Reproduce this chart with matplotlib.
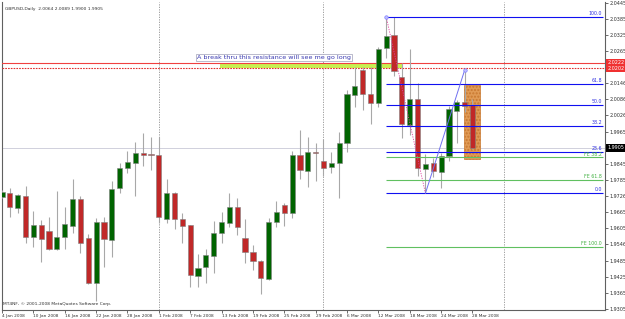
import matplotlib
matplotlib.use('Agg')
import matplotlib.pyplot as plt
from matplotlib.patches import Rectangle
import numpy as np

# GBPUSD daily candles, 4 Jan 2008 .. 28 Mar 2008
opens = [1.9724, 1.9737, 1.9681, 1.9725, 1.9574, 1.9617, 1.9597, 1.9528, 1.9574, 1.9614,
         1.9716, 1.9569, 1.9403, 1.9629, 1.9562, 1.9755, 1.9832, 1.9848, 1.9887, 1.9883,
         1.9880, 1.9642, 1.9737, 1.9639, 1.9617, 1.9429, 1.9463, 1.9504, 1.9589, 1.9624,
         1.9686, 1.9569, 1.9516, 1.9484, 1.9417, 1.9630, 1.9693, 1.9662, 1.9879, 1.9820,
         1.9889, 1.9858, 1.9833, 1.9848, 1.9925, 2.0101, 2.0195, 2.0106, 2.0071, 2.0276,
         2.0326, 2.0170, 1.9991, 2.0086, 1.9827, 1.9850, 1.9817, 1.9876, 2.0044, 2.0077, 2.0064]
highs = [1.9748, 1.9755, 1.9734, 1.9763, 1.9671, 1.9637, 1.9647, 1.9745, 1.9684, 1.9789,
         1.9726, 1.9585, 1.9643, 1.9649, 1.9782, 1.9848, 1.9893, 1.9928, 1.9960, 1.9947,
         1.9947, 1.9788, 1.9739, 1.9662, 1.9619, 1.9510, 1.9529, 1.9634, 1.9665, 1.9736,
         1.9720, 1.9639, 1.9544, 1.9486, 1.9643, 1.9709, 1.9699, 1.9894, 1.9972, 1.9947,
         1.9922, 1.9937, 1.9889, 1.9966, 2.0121, 2.0208, 2.0208, 2.0205, 2.0281, 2.0394,
         2.0392, 2.0222, 2.0273, 2.0146, 1.9881, 1.9867, 1.9885, 2.0061, 2.0084, 2.0195, 2.0089]
lows = [1.9719, 1.9649, 1.9662, 1.9552, 1.9537, 1.9481, 1.9526, 1.9525, 1.9527, 1.9587,
        1.9513, 1.9399, 1.9336, 1.9463, 1.9500, 1.9738, 1.9811, 1.9726, 1.9838, 1.9823,
        1.9624, 1.9624, 1.9602, 1.9552, 1.9388, 1.9388, 1.9401, 1.9440, 1.9550, 1.9612,
        1.9581, 1.9475, 1.9450, 1.9361, 1.9411, 1.9612, 1.9615, 1.9643, 1.9788, 1.9761,
        1.9783, 1.9801, 1.9813, 1.9720, 1.9891, 2.0059, 2.0046, 1.9994, 2.0058, 2.0239,
        2.0173, 1.9941, 1.9953, 1.9802, 1.9736, 1.9798, 1.9757, 1.9855, 1.9922, 2.0039, 1.9900]
closes = [1.9742, 1.9686, 1.9729, 1.9574, 1.9617, 1.9565, 1.9528, 1.9574, 1.9622, 1.9716,
          1.9552, 1.9401, 1.9629, 1.9565, 1.9751, 1.9829, 1.9852, 1.9885, 1.9880, 1.9880,
          1.9649, 1.9737, 1.9639, 1.9615, 1.9432, 1.9457, 1.9506, 1.9587, 1.9628, 1.9686,
          1.9610, 1.9516, 1.9484, 1.9420, 1.9628, 1.9668, 1.9664, 1.9879, 1.9823, 1.9890,
          1.9888, 1.9832, 1.9848, 1.9922, 2.0106, 2.0136, 2.0105, 2.0071, 2.0274, 2.0322,
          2.0193, 1.9994, 2.0086, 1.9829, 1.9845, 1.9820, 1.9875, 2.0049, 2.0075, 2.0062, 1.9905]

date_labels = ['4 Jan 2008', '10 Jan 2008', '16 Jan 2008', '22 Jan 2008', '28 Jan 2008',
               '1 Feb 2008', '7 Feb 2008', '13 Feb 2008', '19 Feb 2008', '25 Feb 2008',
               '29 Feb 2008', '6 Mar 2008', '12 Mar 2008', '18 Mar 2008', '24 Mar 2008',
               '28 Mar 2008']
price_ticks = ['2.0445', '2.0385', '2.0325', '2.0265', '2.0146', '2.0086', '2.0026',
               '1.9965', '1.9845', '1.9785', '1.9726', '1.9665', '1.9605', '1.9546',
               '1.9485', '1.9425', '1.9365', '1.9305']
month_bars = [20, 41, 64]

fib_names = ['100.0', '61.8', '50.0', '38.2', '23.6', '0.0']
fib_prices = [2.0394, 2.0143, 2.0065, 1.9987, 1.9891, 1.9736]
fe_names = ['FE 38.2', 'FE 61.8', 'FE 100.0']
fe_prices = [1.9870, 1.9787, 1.9535]
resist_top = 2.0222
resist_bot = 2.0202
last_price = 1.9905
note = 'A break thru this resistance will see me go long'

n = len(opens)
x = np.arange(n)
o = np.array(opens); c = np.array(closes)
up = c >= o

fig = plt.figure(figsize=(6.25, 3.19), dpi=100)
fig.patch.set_facecolor('white')
ax = fig.add_axes([2/625, 9/319, 603/625, 308/319])
ax.set_xlim(0.06, 76.9)
ax.set_ylim(1.9301, 2.0449)

# grid / price line
for m in month_bars:
    ax.axvline(m, color='#909090', lw=0.6, ls=(0, (1.5, 1.5)), zorder=1)
ax.axhline(last_price, color='#d0d0dc', lw=0.7, zorder=1)

# resistance zone
ax.add_patch(Rectangle((27.8, resist_bot), 51.0 - 27.8, resist_top - resist_bot,
                       facecolor='#c8f050', edgecolor='none', zorder=2))
ax.hlines(resist_top, 27.8, 51.0, color='#e0a030', lw=0.6, ls=':', zorder=2)
ax.axhline(resist_top, color='#f04040', lw=0.8, zorder=3)
ax.axhline(resist_bot, color='#e03030', lw=0.8, ls=(0, (1.5, 1)), zorder=3)

# orange box
ax.add_patch(Rectangle((58.95, 1.9864), 2.05, 2.0140 - 1.9864,
                       facecolor='#e09a55', edgecolor='#c87830', hatch='.....',
                       lw=0.5, zorder=2))

# candles
ax.vlines(x, lows, highs, color='#a8a8a8', lw=0.8, zorder=4)
bh = np.maximum(np.abs(c - o), 0.00012)
ax.bar(x[up], bh[up], bottom=np.minimum(o, c)[up], width=0.66,
       color='#006400', edgecolor='#808080', lw=0.4, zorder=5)
ax.bar(x[~up], bh[~up], bottom=np.minimum(o, c)[~up], width=0.66,
       color='#c02828', edgecolor='#808080', lw=0.4, zorder=5)

# fibonacci retracement
ax.hlines(fib_prices, 49, 76.6, color='#1010f0', lw=0.8, zorder=6)
for name, p in zip(fib_names, fib_prices):
    ax.text(76.5, p + 0.0003, name, color='#3030e0', fontsize=3.4,
            ha='right', va='bottom', zorder=7)
ax.plot([49, 54], [fib_prices[0], fib_prices[-1]], color='#e040a0', lw=0.6,
        ls=(0, (1.5, 1.5)), zorder=6)
ax.plot([49], [fib_prices[0]], 'o', ms=2.5, mfc='#c0c0ff', mec='#8080ff', mew=0.5, zorder=7)

# fibonacci expansion
ax.hlines(fe_prices, 49, 76.6, color='#60c060', lw=0.8, zorder=6)
for name, p in zip(fe_names, fe_prices):
    ax.text(76.5, p + 0.0003, name, color='#40b040', fontsize=3.4,
            ha='right', va='bottom', zorder=7)
ax.plot([54, 59], [lows[54], highs[59]], color='#7070f0', lw=0.7, zorder=6)
ax.plot([59], [highs[59]], 'o', ms=2.5, mfc='#c0c0ff', mec='#8080ff', mew=0.5, zorder=7)

# note
ax.text(24.9, 2.0242, note, fontsize=4.6, color='#3838b0', va='center', ha='left',
        zorder=8, bbox=dict(boxstyle='square,pad=0.15', facecolor='white',
                            edgecolor='#a0a0b8', lw=0.5))

# header / footer
ax.text(0.005, 0.985, 'GBPUSD,Daily  2.0064 2.0089 1.9900 1.9905', transform=ax.transAxes,
        fontsize=3.2, color='#303030', va='top', ha='left')
ax.text(0.002, 0.012, 'MT4NF, \u00a9 2001-2008 MetaQuotes Software Corp.', transform=ax.transAxes,
        fontsize=3.2, color='#303030', va='bottom', ha='left')

# axes
ax.spines['top'].set_visible(False)
for s in ['left', 'right', 'bottom']:
    ax.spines[s].set_color('#606060')
    ax.spines[s].set_linewidth(0.8)
ax.yaxis.tick_right()
ax.set_yticks([float(t) for t in price_ticks])
ax.set_yticklabels(price_ticks)
ax.set_xticks(np.arange(0, n, 4))
ax.set_xticklabels(date_labels, ha='left')
ax.tick_params(axis='y', labelsize=3.5, length=2, width=0.5, pad=1, colors='#303030')
ax.tick_params(axis='x', labelsize=3.1, length=2, width=0.5, pad=1, colors='#303030')

# right-axis price boxes
for val, txt, col in [(resist_top, '2.0222', '#f03030'), (resist_bot, '2.0202', '#f03030'),
                      (last_price, '1.9905', 'black')]:
    ax.text(1.004, val, txt, transform=ax.get_yaxis_transform(), fontsize=3.5,
            color='white', va='center', ha='left',
            bbox=dict(boxstyle='square,pad=0.25', facecolor=col, edgecolor='none'))

fig.savefig('out.png', dpi=100)
